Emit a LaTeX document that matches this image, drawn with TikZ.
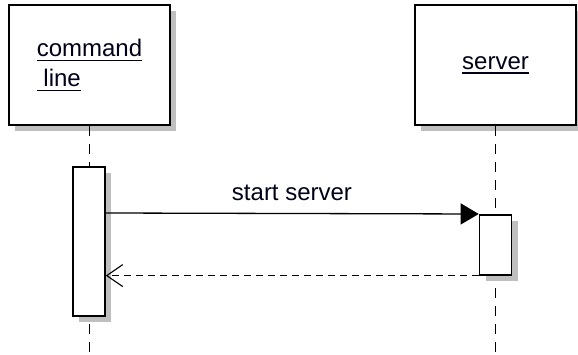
\documentclass[tikz,border=0pt]{standalone}
\usepackage{fontspec}
\setmainfont{Liberation Sans}
\usetikzlibrary{arrows.meta,shadows}

% underlined text with the rule a few points below the baseline
\newcommand\ultext[1]{\setbox0\hbox{#1}\rlap{\rule[-4.5pt]{\wd0}{1.3pt}}\box0}

\tikzset{
  shade box/.style={drop shadow={shadow xshift=6pt, shadow yshift=-6pt,
      fill=black!25, opacity=1}},
  lifebox/.style={draw=black, line width=1.6pt, fill=white, shade box,
      minimum width=161pt, minimum height=120pt, inner sep=0pt,
      align=left, text=black!90!blue},
  activation/.style={draw=black, line width=1.6pt, fill=white, shade box,
      minimum width=32pt, inner sep=0pt},
  lifeline/.style={line width=1.4pt, dash pattern=on 10pt off 8pt},
  callmsg/.style={line width=1.3pt, -{Triangle[length=18pt,width=21pt]}},
  replymsg/.style={line width=1.2pt, dash pattern=on 7pt off 5pt,
      -{Straight Barb[length=16pt,width=22pt,line width=1.1pt]}},
  msglabel/.style={inner sep=0pt, anchor=base, text=black!90!blue}
}

\begin{document}
\begin{tikzpicture}[x=1pt, y=-1pt, font=\fontsize{24}{30}\selectfont]
  \useasboundingbox (0,0) rectangle (578,355);

  % participants
  \node[lifebox] (cmd) at (89.5,65) {\ultext{command}\\\ultext{\ line}};
  \node[lifebox] (srv) at (495.5,65) {\ultext{server}};

  % lifelines
  \coordinate (cmdend) at (cmd.south |- 0,360);
  \coordinate (srvend) at (srv.south |- 0,360);
  \draw[lifeline] (cmd.south) -- (cmdend);
  \draw[lifeline] (srv.south) -- (srvend);

  % activations
  \node[activation, minimum height=149pt, anchor=north] (cmdact) at (89,166) {};
  \node[activation, minimum height=60pt, anchor=north] (srvact) at (495.5,214) {};

  % messages
  \draw[callmsg] (cmdact.east |- 0,213) -- (srvact.north west);
  \node[msglabel] (startlbl) at (292,201) {start server};
  \draw[replymsg] (srvact.south west) -- (cmdact.east |- srvact.south);
\end{tikzpicture}
\end{document}
